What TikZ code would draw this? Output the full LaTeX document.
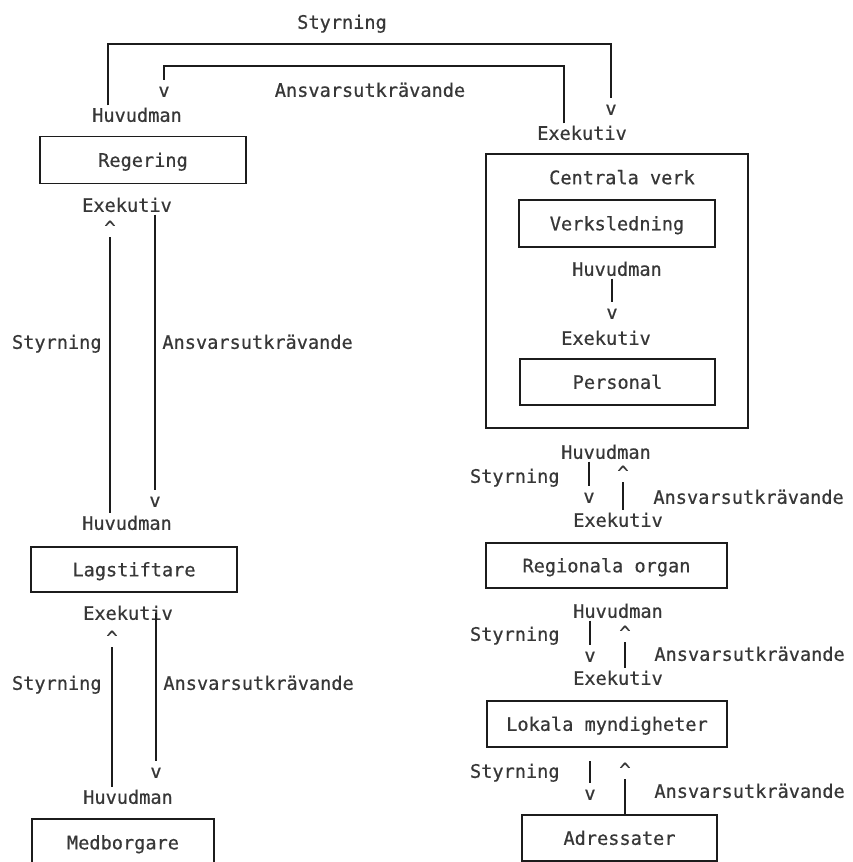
\documentclass[tikz,border=0pt]{standalone}
\usepackage{fontspec}
\usepackage{tikz}
\usetikzlibrary{positioning}
\newfontfamily\typewr[FakeBold=0.6]{DejaVu Sans Mono}
\definecolor{InkBlack}{RGB}{28,28,28}
\definecolor{InkGray}{RGB}{55,55,55}

\begin{document}
\begin{tikzpicture}[
	x=0.5pt,
	y=-0.5pt,
	lbl/.style={
		inner sep=0pt,
		text height=8.05pt,
		text depth=1.25pt,
		font=\typewr\fontsize{9.3pt}{11pt}\selectfont,
		text=InkGray
	},
	orgbox/.style={
		lbl,
		draw=InkBlack,
		line width=0.9pt
	},
	link/.style={
		draw=InkBlack,
		line width=0.9pt
	}
	]
	
	\useasboundingbox (0,0) rectangle (852,862);
	
	% top brackets between Regering and Centrala verk
	\node[lbl] (styTop) at (342,22) {Styrning};
	\node[lbl] (ansTop) at (370,90) {Ansvarsutkrävande};
	\node[lbl] (huvRegering) at (137,115) {Huvudman};
	\node[lbl] (exeCentrala) at (582,133) {Exekutiv};
	\node[lbl] (vTopL) at (164,90) {v};
	\node[lbl] (vTopR) at (611,108) {v};
	
	\coordinate (outerL) at (108,44);
	\coordinate (outerR) at (611,44);
	\coordinate (innerL) at (164,66);
	\coordinate (innerR) at (564,66);
	
	\draw[link] (outerL |- huvRegering.north) -- (outerL) -- (outerR) -- (vTopR);
	\draw[link] (innerR |- exeCentrala.north) -- (innerR) -- (innerL) -- (vTopL);
	
	% left column
	\node[
	orgbox,
	minimum width=103pt,
	minimum height=23.5pt
	]
	(regering) at (143,160)
	{Regering};
	
	\node[lbl] (exeRegering) at (127,205) {Exekutiv};
	\node[lbl] (upRegering) at (110,227.5) {\textasciicircum};
	\node[lbl] (vRegering) at (155,500) {v};
	\node[lbl] (huvLag) at (127,523) {Huvudman};
	\node[lbl, anchor=east] (styRegering) at (102,342) {Styrning};
	\node[lbl, anchor=west] (ansRegering) at (162,342) {Ansvarsutkrävande};
	
	\draw[link] (upRegering) -- (upRegering |- huvLag.north);
	\draw[link] (vRegering |- exeRegering.south) -- (vRegering);
	
	\node[
	orgbox,
	minimum width=103pt,
	minimum height=22.5pt
	]
	(lagstiftare) at (134,569.5)
	{Lagstiftare};
	
	\node[lbl] (exeLag) at (128,613) {Exekutiv};
	\node[lbl] (upLag) at (112,637.5) {\textasciicircum};
	\node[lbl] (vLag) at (156,771) {v};
	\node[lbl] (huvMed) at (128,797) {Huvudman};
	\node[lbl, anchor=east] (styLag) at (102,683) {Styrning};
	\node[lbl, anchor=west] (ansLag) at (163,683) {Ansvarsutkrävande};
	
	\draw[link] (upLag) -- (upLag |- huvMed.north);
	\draw[link] (vLag |- exeLag.center) -- (vLag);
	
	\node[
	orgbox,
	minimum width=91pt,
	minimum height=23.5pt
	]
	(medborgare) at (123,842.5)
	{Medborgare};
	
	% right column
	\node[
	link,
	inner sep=0pt,
	minimum width=131pt,
	minimum height=137pt
	]
	(centrala) at (617,291)
	{};
	
	\node[lbl, below=7.3pt of centrala.north, xshift=2.5pt] (centralaTxt) {Centrala verk};
	
	\node[
	orgbox,
	minimum width=98pt,
	minimum height=23.5pt
	]
	(verksledning) at (617,223.5)
	{Verksledning};
	
	\node[lbl] (huvVerk) at (617,269) {Huvudman};
	\node[lbl] (vVerk) at (612,312) {v};
	\node[lbl] (exePersonal) at (606,338) {Exekutiv};
	
	\draw[link] (vVerk |- huvVerk.south) -- (vVerk);
	
	\node[
	orgbox,
	minimum width=97.5pt,
	minimum height=23pt
	]
	(personal) at (617.5,382)
	{Personal};
	
	\node[lbl] (huvCentrala) at (606,452) {Huvudman};
	\node[lbl, anchor=east] (styCentrala) at (560,476) {Styrning};
	\node[lbl] (vCentrala) at (589,496) {v};
	\node[lbl] (upCentrala) at (623,472.5) {\textasciicircum};
	\node[lbl, anchor=west] (ansCentrala) at (653,497) {Ansvarsutkrävande};
	\node[lbl] (exeRegionala) at (618,520) {Exekutiv};
	
	\draw[link] (vCentrala |- huvCentrala.south) -- (vCentrala);
	\draw[link] (upCentrala) -- (upCentrala |- exeRegionala.north);
	
	\node[
	orgbox,
	minimum width=120.5pt,
	minimum height=22.5pt
	]
	(regionala) at (606.5,565.5)
	{Regionala organ};
	
	\node[lbl] (huvRegionala) at (618,611) {Huvudman};
	\node[lbl, anchor=east] (styRegionala) at (560,634) {Styrning};
	\node[lbl] (vRegionala) at (590,655) {v};
	\node[lbl] (upRegionala) at (625,632.5) {\textasciicircum};
	\node[lbl, anchor=west] (ansRegionala) at (654,654) {Ansvarsutkrävande};
	\node[lbl] (exeLokala) at (618,678) {Exekutiv};
	
	\draw[link] (vRegionala |- huvRegionala.south) -- (vRegionala);
	\draw[link] (upRegionala) -- (upRegionala |- exeLokala.north);
	
	\node[
	orgbox,
	minimum width=120pt,
	minimum height=23pt
	]
	(lokala) at (607,724)
	{Lokala myndigheter};
	
	\node[lbl, anchor=east] (styLokala) at (560,771) {Styrning};
	\node[lbl] (vLokala) at (590,793) {v};
	\node[lbl] (upLokala) at (625,769.5) {\textasciicircum};
	\node[lbl, anchor=west] (ansLokala) at (654,791) {Ansvarsutkrävande};
	
	\node[
	orgbox,
	minimum width=97.5pt,
	minimum height=23pt
	]
	(adressater) at (619.5,838)
	{Adressater};
	
	\draw[link] (vLokala |- styLokala.north) -- (vLokala);
	\draw[link] (upLokala) -- (upLokala |- adressater.north);
	
\end{tikzpicture}
\end{document}
